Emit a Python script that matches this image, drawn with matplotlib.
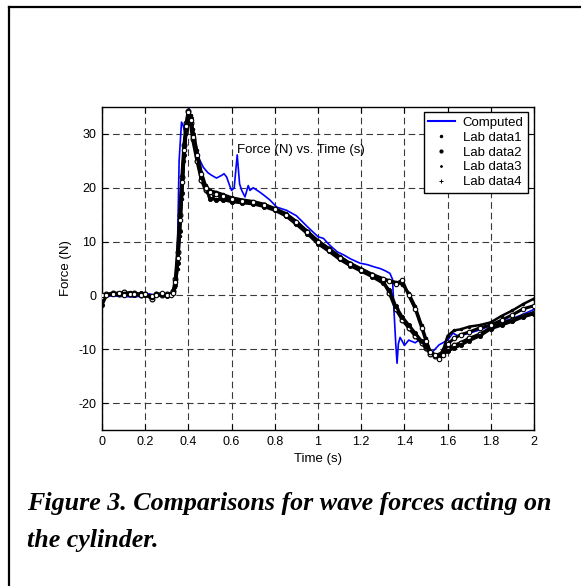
import matplotlib
matplotlib.use("Agg")
import matplotlib.pyplot as plt
from matplotlib.lines import Line2D

# ---------------- data ----------------
t_comp = [0.00, 0.05, 0.10, 0.15, 0.20, 0.22, 0.25, 0.30, 0.33, 0.342, 0.35, 0.357, 0.368, 0.376,
          0.384, 0.393, 0.403, 0.413, 0.423, 0.446, 0.469, 0.49, 0.508, 0.53, 0.554, 0.565, 0.577,
          0.59, 0.60, 0.612, 0.626, 0.637, 0.647, 0.662, 0.677, 0.685, 0.70, 0.73, 0.75, 0.778,
          0.809, 0.855, 0.90, 0.95, 1.00, 1.025, 1.05, 1.089, 1.12, 1.15, 1.194, 1.23, 1.26, 1.287,
          1.31, 1.333, 1.345, 1.352, 1.36, 1.366, 1.372, 1.38, 1.39, 1.40, 1.42, 1.45, 1.47, 1.50,
          1.53, 1.56, 1.60, 1.625, 1.65, 1.70, 1.75, 1.80, 1.85, 1.90, 1.95, 2.00]
f_comp = [-0.2, -0.1, -0.2, -0.3, 0.0, 0.3, -0.1, -0.2, 0.0, 1.6, 10.0, 25.0, 32.2, 31.5,
          30.0, 31.5, 34.7, 33.0, 30.6, 25.7, 23.8, 22.8, 22.3, 21.8, 22.3, 22.6, 22.0,
          20.5, 19.5, 20.0, 26.1, 20.7, 19.5, 18.3, 20.4, 19.5, 20.0, 19.2, 18.6, 17.7,
          16.4, 15.8, 14.8, 12.8, 10.9, 10.6, 9.5, 8.1, 7.5, 6.8, 6.0, 5.7, 5.3, 5.0,
          4.6, 4.1, 3.0, -3.0, -9.0, -12.6, -9.0, -7.8, -8.5, -9.3, -8.3, -8.8, -8.2, -9.8,
          -10.5, -9.2, -8.3, -7.0, -7.6, -7.0, -6.4, -5.6, -4.9, -4.3, -3.5, -2.6]

t_lab = [0.00, 0.02, 0.05, 0.08, 0.10, 0.13, 0.15, 0.18, 0.20, 0.23, 0.25, 0.28, 0.30, 0.32,
         0.33, 0.34, 0.35, 0.36, 0.37, 0.38, 0.39, 0.40, 0.41, 0.42,
         0.44, 0.46, 0.48, 0.50, 0.53, 0.56,
         0.60, 0.65, 0.70, 0.75, 0.80, 0.85, 0.90, 0.95, 1.00, 1.05, 1.10, 1.15, 1.20, 1.25, 1.30,
         1.33, 1.36, 1.39, 1.42, 1.45, 1.48, 1.50, 1.52, 1.54, 1.56, 1.58,
         1.60, 1.63, 1.66, 1.70, 1.75, 1.80, 1.85, 1.90, 1.95, 2.00]

lab1 = [-0.3, 0.2, 0.4, 0.3, 0.6, 0.2, 0.5, 0.1, 0.3, -0.6, 0.2, 0.0, 0.2, 0.3,
        0.8, 3.0, 8.0, 15.0, 22.0, 28.0, 32.0, 34.3, 32.0, 29.0,
        25.0, 21.5, 19.5, 18.5, 18.2, 18.0,
        17.6, 17.4, 17.2, 16.8, 16.0, 15.0, 13.5, 11.8, 10.0, 8.6, 7.0, 5.8, 4.8, 3.8, 2.8,
        0.5, -2.5, -4.5, -6.0, -7.5, -8.8, -9.8, -10.8, -11.2, -11.0, -10.5,
        -10.0, -9.3, -8.8, -8.0, -7.2, -6.0, -5.2, -4.6, -3.8, -3.2]
lab2 = [-1.8, 0.0, 0.3, 0.5, 0.2, 0.4, 0.0, 0.4, 0.1, -0.3, 0.0, 0.3, -0.1, 0.2,
        0.5, 2.0, 6.0, 12.0, 19.0, 26.0, 31.0, 33.5, 33.0, 30.0,
        26.0, 22.0, 20.0, 18.0, 17.8, 17.8,
        17.4, 17.2, 17.0, 16.5, 15.8, 14.8, 13.2, 11.5, 9.6, 8.2, 6.7, 5.5, 4.5, 3.5, 2.3,
        1.0, -2.0, -4.0, -5.5, -7.0, -8.5, -9.5, -10.5, -11.0, -11.3, -11.0,
        -10.3, -9.8, -9.2, -8.4, -7.5, -6.2, -5.5, -4.8, -4.0, -3.4]
lab3 = [0.2, -0.2, 0.5, 0.0, 0.4, 0.6, 0.1, 0.3, 0.0, -0.4, 0.4, 0.1, 0.3, 0.0,
        0.3, 1.5, 5.0, 11.0, 18.0, 25.0, 30.0, 33.0, 33.5, 31.0,
        27.0, 23.0, 20.5, 19.5, 19.2, 18.8,
        18.2, 17.8, 17.5, 17.0, 16.2, 15.3, 13.8, 12.0, 10.2, 8.8, 7.3, 6.0, 5.0, 4.0, 3.2,
        2.8, 2.5, 2.0, 0.5, -2.0, -5.5, -8.0, -10.5, -11.2, -11.5, -10.0,
        -7.5, -6.5, -6.3, -5.8, -5.5, -5.0, -3.8, -2.8, -1.6, -0.6]
lab4 = [0.0, 0.1, 0.2, 0.4, 0.1, 0.3, 0.3, 0.0, 0.2, -0.2, 0.1, 0.4, 0.0, 0.1,
        0.4, 2.5, 7.0, 14.0, 21.0, 27.0, 31.5, 34.0, 32.5, 29.5,
        26.0, 22.5, 20.0, 19.3, 18.8, 18.4,
        17.9, 17.6, 17.3, 16.8, 16.0, 15.0, 13.6, 11.8, 10.0, 8.5, 7.0, 5.8, 4.8, 3.8, 3.0,
        2.6, 2.2, 2.8, 0.0, -2.5, -6.0, -8.5, -10.5, -11.0, -11.8, -11.0,
        -9.0, -8.0, -7.3, -6.8, -6.0, -5.5, -4.6, -3.6, -2.5, -1.9]

series_labels = ["Computed", "Lab data1", "Lab data2", "Lab data3", "Lab data4"]
x_ticks = [0, 0.2, 0.4, 0.6, 0.8, 1.0, 1.2, 1.4, 1.6, 1.8, 2.0]
x_ticklabels = ["0", "0.2", "0.4", "0.6", "0.8", "1", "1.2", "1.4", "1.6", "1.8", "2"]
y_ticks = [-20, -10, 0, 10, 20, 30]
caption_lines = ["Figure 3. Comparisons for wave forces acting on", "the cylinder."]

# ---------------- figure ----------------
plt.rcParams['font.family'] = ['Liberation Sans', 'DejaVu Sans']
plt.rcParams['axes.unicode_minus'] = False
W, H = 581, 586
fig = plt.figure(figsize=(W / 100, H / 100), dpi=100)

# outer frame (left and top edges)
fig.add_artist(Line2D([9 / W, 9 / W], [0, 1 - 7 / H], color='black', lw=1.6,
                      transform=fig.transFigure, solid_capstyle='projecting'))
fig.add_artist(Line2D([9 / W, 1], [1 - 7 / H, 1 - 7 / H], color='black', lw=1.6,
                      transform=fig.transFigure, solid_capstyle='projecting'))

ax = fig.add_axes([102 / W, 1 - 430 / H, 432 / W, 323 / H])
ax.set_xlim(0, 2)
ax.set_ylim(-25, 35)

ax.plot(t_comp, f_comp, color='#0000ff', lw=1.2, zorder=3)
ax.plot(t_lab, lab1, color='black', lw=2.4, marker='o', ms=3.4, mfc='white', mew=0.9, zorder=4)
ax.plot(t_lab, lab2, color='black', lw=2.2, marker='o', ms=3.0, mfc='black', mew=0.6, zorder=4)
ax.plot(t_lab, lab3, color='black', lw=1.8, marker='.', ms=3, zorder=4)
ax.plot(t_lab, lab4, color='black', lw=2.2, marker='o', ms=3.2, mfc='white', mew=0.8, zorder=4)

ax.set_xticks(x_ticks)
ax.set_xticklabels(x_ticklabels)
ax.set_yticks(y_ticks)
ax.tick_params(direction='in', length=4, width=0.8, top=True, right=True,
               labelsize=9, colors='black', pad=4)
ax.grid(True, color='#3a3a3a', lw=0.8, linestyle=(0, (6, 3.5)))
for s in ax.spines.values():
    s.set_linewidth(1.0)

ax.set_xlabel("Time (s)", fontsize=9.5, labelpad=4)
ax.set_ylabel("Force (N)", fontsize=9.5, labelpad=5)
ax.text(0.92, 27.0, "Force (N) vs. Time (s)", fontsize=9.5, ha='center', va='center', zorder=5)

handles = [Line2D([], [], color='#0000ff', lw=1.5),
           Line2D([], [], ls='none', marker='.', ms=3, color='black'),
           Line2D([], [], ls='none', marker='.', ms=4, color='black'),
           Line2D([], [], ls='none', marker='.', ms=2, color='black'),
           Line2D([], [], ls='none', marker='+', ms=2.5, mew=0.7, color='black')]
leg = ax.legend(handles, series_labels, loc='upper right',
                bbox_to_anchor=(528 / W, 1 - 112 / H), bbox_transform=fig.transFigure,
                fontsize=9.5, frameon=True, fancybox=False, framealpha=1, edgecolor='black',
                borderpad=0.35, labelspacing=0.2, handlelength=2.0, handletextpad=0.6,
                borderaxespad=0)
leg.get_frame().set_linewidth(1.0)
leg.set_zorder(10)

fig.text(27 / W, 1 - 510 / H, caption_lines[0], fontsize=18.7, fontweight='bold',
         fontstyle='italic', family='Liberation Serif', ha='left', va='baseline')
fig.text(27 / W, 1 - 547 / H, caption_lines[1], fontsize=18.7, fontweight='bold',
         fontstyle='italic', family='Liberation Serif', ha='left', va='baseline')

fig.savefig("out.png", dpi=100)
